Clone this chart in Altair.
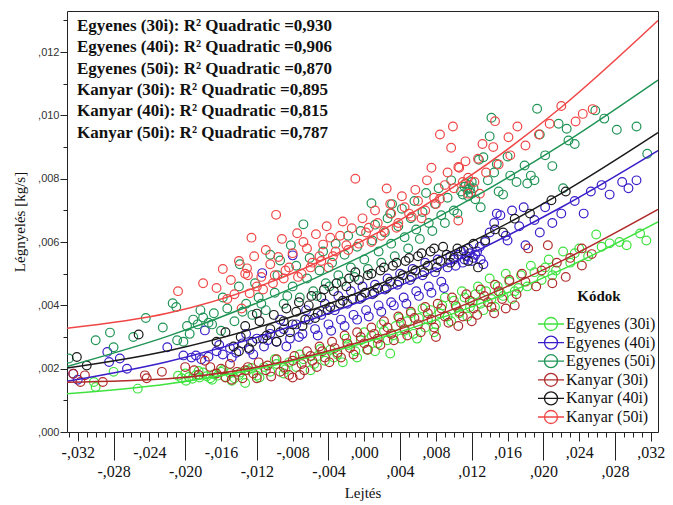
import altair as alt
import pandas as pd

SERIES = ["Egyenes (30i)", "Egyenes (40i)", "Egyenes (50i)",
          "Kanyar (30i)", "Kanyar (40i)", "Kanyar (50i)"]
COLORS = ["#3fe23f", "#3a1fc9", "#1f9455", "#b02a2a", "#1a1a1a", "#f04646"]
R2 = ["0,930", "0,906", "0,870", "0,895", "0,815", "0,787"]

# scatter points, (Lejtés, Légnyelés) in thousandths
e30 = [(-30.2,1.58),(-30.0,1.42),(-28.0,1.90),(-25.3,1.37),(-20.8,1.78),(-20.4,1.70),(-20.0,1.85),
       (-19.6,1.74),(-19.2,1.68),(-18.8,1.80),(-18.4,1.72),(-18.0,1.88),(-17.6,1.76),(-17.2,1.70),
       (-16.8,1.82),(-16.4,1.78),(-16.0,1.90),(-15.5,1.74),(-15.0,1.86),(-14.5,1.70),(-14.0,1.80),
       (-13.3,1.55),(-13.0,1.95),(-12.0,1.78),(-11.2,2.05),(-10.5,1.90),(-9.8,2.15),(-9.0,1.85),
       (-8.4,2.20),(-7.6,2.05),(-6.8,2.30),(-6.0,1.95),(-5.2,2.40),(-4.4,2.25),(-3.8,2.60),(-3.0,2.45),
       (-2.4,2.20),(-1.8,2.75),(-1.0,2.55),(-0.4,2.90),(0.3,2.60),(0.8,3.05),(1.5,2.80),(2.2,3.20),
       (2.9,2.48),(3.5,3.35),(4.1,2.95),(4.8,3.50),(5.5,3.10),(6.1,3.60),(6.8,3.30),(7.4,3.85),
       (8.0,3.40),(8.7,4.00),(9.3,3.65),(10.0,4.15),(10.6,3.75),(11.2,4.25),(11.8,3.95),(12.4,4.35),
       (13.0,4.05),(13.6,4.45),(14.2,4.20),(14.9,4.60),(15.5,4.30),(16.2,4.75),(16.8,4.45),(17.5,4.95),
       (18.2,4.60),(19.0,5.05),(19.8,4.80),(20.6,5.45),(21.4,5.10),(22.2,5.70),(23.0,5.35),(24.0,5.80),
       (25.0,5.55),(25.9,6.24),(27.4,5.96),(28.5,6.00),(29.3,5.90),(30.8,6.27),(31.5,6.05),
       (-19.9,1.62),(-18.5,1.93),(-17.0,1.65),(-15.8,1.95),(-14.8,1.62),(-13.8,1.88),(-12.6,2.02),
       (-11.7,1.72),(-10.0,2.30),(-8.8,1.98),(-7.2,2.45),(-5.6,2.15),(-4.9,2.62),(-3.4,2.35),(-2.0,2.95),
       (-0.8,2.35),(0.0,3.15),(1.2,2.55),(1.9,3.40),(2.6,2.90),(3.2,3.05),(3.9,3.60),(4.5,3.20),
       (5.2,3.75),(5.9,2.95),(6.5,3.90),(7.1,3.55),(7.8,3.15),(8.4,3.75),(9.0,4.25),(9.7,3.50),
       (10.3,3.95),(10.9,4.45),(11.5,3.65),(12.1,4.10),(12.7,4.60),(13.3,3.85),(14.0,4.85),(14.6,3.95),
       (15.2,4.40),(15.8,5.00),(16.5,4.20),(17.2,4.55),(18.6,5.25),(20.2,5.20),(21.0,4.95),(23.5,5.65),
       (26.5,5.85)]
e40 = [(-32.5,1.84),(-32.0,1.65),(-28.7,2.53),(-28.5,2.21),(-27.3,2.32),(-26.5,2.00),(-22.0,2.68),
       (-20.2,2.42),(-19.3,2.35),(-18.8,2.42),(-18.2,2.30),(-17.8,3.21),(-17.4,2.38),(-16.5,2.55),
       (-15.8,2.45),(-15.0,2.65),(-14.3,2.50),(-13.6,2.80),(-12.8,2.60),(-12.0,2.95),(-11.4,5.02),
       (-11.2,2.70),(-10.5,3.10),(-9.8,2.85),(-9.0,3.25),(-8.3,2.95),(-8.0,5.58),(-7.6,3.40),(-6.9,3.10),
       (-6.2,3.55),(-5.5,3.25),(-4.8,3.70),(-4.0,3.40),(-3.3,3.85),(-2.6,3.55),(-1.9,4.05),(-1.2,3.70),
       (-0.5,4.20),(0.2,3.85),(0.9,4.35),(1.6,4.00),(2.3,4.50),(3.0,4.10),(3.7,4.65),(4.4,4.25),
       (5.1,4.80),(5.8,4.45),(6.5,4.95),(7.2,4.60),(7.9,5.05),(8.6,4.75),(9.3,5.20),(10.0,5.45),
       (10.5,5.60),(11.0,5.35),(11.4,5.55),(11.8,5.65),(12.2,5.50),(12.6,5.70),(13.0,5.45),(13.5,6.00),
       (14.0,6.30),(14.5,6.60),(15.2,6.85),(15.8,6.20),(16.5,7.00),(17.3,6.50),(18.0,5.90),(19.0,6.70),
       (20.2,7.10),(22.0,6.90),(23.5,7.30),(24.5,6.90),(25.3,7.60),(26.5,7.80),(27.4,7.50),(28.8,7.90),
       (29.5,7.70),(30.4,7.95),
       (-16.2,2.75),(-14.8,2.35),(-13.2,3.10),(-12.4,2.45),(-10.8,2.90),(-9.4,3.55),(-8.7,2.70),
       (-7.3,3.00),(-6.5,3.85),(-5.2,3.05),(-4.4,4.05),(-3.7,3.20),(-2.9,4.30),(-2.2,3.35),(-1.5,4.45),
       (-0.8,3.55),(-0.2,4.60),(0.5,3.65),(1.2,4.65),(1.9,3.80),(2.6,4.85),(3.3,4.00),(4.0,5.00),
       (4.7,4.05),(5.4,5.15),(6.1,4.30),(6.8,5.35),(7.5,4.40),(8.2,5.45),(8.9,4.55),(9.6,5.55),
       (10.2,5.25),(10.8,5.70),(11.2,5.45),(11.6,5.80),(12.0,5.40),(12.4,5.60),(12.9,5.85),(13.3,5.30),
       (14.8,6.90),(16.0,6.05),(17.8,7.10),(19.6,6.30),(21.0,6.60)]
e50 = [(-33.0,2.32),(-30.0,2.90),(-28.4,3.14),(-28.0,2.68),(-25.8,3.00),(-24.4,3.60),(-21.4,4.07),
       (-20.9,2.90),(-20.2,2.85),(-19.8,3.35),(-19.1,3.55),(-18.6,3.40),(-18.0,3.62),(-17.4,3.45),
       (-16.8,3.75),(-16.0,3.20),(-15.3,3.90),(-14.5,3.50),(-13.9,5.30),(-13.2,4.05),(-12.5,3.70),
       (-11.8,4.25),(-11.0,3.85),(-10.5,5.60),(-10.0,4.40),(-9.4,5.42),(-9.0,4.05),(-8.2,5.90),
       (-8.0,4.60),(-7.2,4.25),(-6.8,6.56),(-6.4,4.85),(-5.7,4.45),(-5.0,5.10),(-4.3,4.70),(-3.6,5.35),
       (-2.9,4.95),(-2.2,5.60),(-1.5,5.20),(-0.8,5.85),(0.0,5.45),(0.8,7.23),(0.9,6.05),(1.6,5.70),
       (2.3,6.30),(2.9,6.90),(3.1,7.20),(3.0,5.95),(3.8,6.50),(4.5,6.15),(5.2,6.75),(5.8,6.40),
       (6.5,6.95),(7.2,6.60),(7.9,7.20),(8.6,6.85),(9.3,7.40),(10.0,7.00),(10.8,7.60),(11.2,7.75),
       (11.5,7.65),(11.7,7.80),(11.9,7.55),(12.2,7.70),(12.8,8.60),(13.3,8.68),(14.0,9.34),(14.2,9.93),
       (14.8,8.47),(15.5,7.50),(16.3,8.10),(17.9,8.42),(18.2,7.85),(19.0,7.95),(19.3,10.21),(19.6,9.40),
       (20.2,8.74),(21.7,9.74),(22.2,7.70),(22.6,9.58),(22.8,9.21),(25.8,10.16),(30.4,9.65),(31.6,8.79),
       (-22.5,3.30),(-21.0,3.95),(-19.5,3.10),(-18.3,3.85),(-17.0,3.40),(-15.8,4.25),(-14.0,4.60),
       (-13.6,3.80),(-12.2,4.70),(-11.5,4.05),(-9.7,4.95),(-8.6,4.30),(-7.6,5.25),(-6.1,5.50),(-5.3,4.30),
       (-4.6,5.70),(-3.9,4.60),(-3.2,5.95),(-2.5,4.75),(-1.8,6.20),(-1.1,4.90),(-0.4,6.35),(0.4,5.15),
       (1.2,6.55),(1.9,5.35),(2.6,6.75),(3.4,5.55),(4.2,7.05),(4.9,5.80),(5.6,7.30),(6.2,6.10),
       (6.9,7.55),(7.6,6.35),(8.3,7.70),(9.0,6.60),(9.7,7.95),(10.4,6.90),(11.0,7.50),(11.3,7.85),
       (11.6,7.45),(11.8,7.70),(12.0,7.90),(12.4,7.35),(13.0,7.10),(13.8,7.95),(14.5,8.20),(15.0,7.60),
       (16.0,8.70),(17.0,7.90),(18.6,8.10),(21.0,8.40),(23.5,9.10),(26.8,9.90),(28.2,9.55)]
k30 = [(-32.5,1.84),(-31.7,1.58),(-31.2,1.79),(-29.2,1.58),(-24.5,1.79),(-24.3,1.70),(-20.0,2.05),
       (-19.0,1.95),(-17.8,2.25),(-16.5,1.85),(-16.0,2.00),(-15.5,1.72),(-15.0,2.15),(-14.2,1.90),
       (-13.6,1.70),(-13.0,2.05),(-12.4,1.85),(-11.8,2.20),(-11.0,1.95),(-10.4,1.75),(-9.8,2.30),
       (-9.0,2.05),(-8.4,1.80),(-8.0,1.72),(-7.8,2.40),(-7.2,1.80),(-7.0,2.15),(-6.4,2.55),(-5.8,2.25),
       (-5.0,2.70),(-4.4,2.35),(-3.6,2.85),(-3.0,2.50),(-2.2,3.05),(-1.6,2.65),(-0.8,3.15),(0.0,2.80),
       (0.8,3.30),(1.5,2.95),(2.2,3.50),(3.0,3.10),(3.8,3.65),(4.5,3.25),(5.2,3.80),(6.0,3.40),
       (6.8,3.95),(7.5,3.55),(8.0,3.00),(8.2,4.05),(9.0,3.65),(9.8,4.25),(10.5,3.35),(10.6,3.80),
       (11.4,4.35),(12.0,3.50),(12.2,3.90),(13.0,4.50),(13.8,4.10),(14.5,3.75),(14.6,4.65),(15.4,4.20),
       (16.2,4.80),(16.8,4.00),(17.6,5.00),(18.3,5.80),(19.2,4.60),(20.5,5.90),(21.5,5.35),(22.5,4.90),
       (24.3,5.80),(24.3,5.26),(25.4,5.62),
       (-22.6,1.90),(-18.5,1.80),(-17.2,2.05),(-14.8,1.65),(-13.3,1.95),(-12.0,1.70),(-10.8,2.10),
       (-9.4,1.90),(-8.0,2.25),(-6.7,1.95),(-6.0,2.40),(-5.3,2.05),(-4.7,2.55),(-3.9,2.20),(-3.3,2.65),
       (-2.6,2.35),(-1.9,2.80),(-1.2,2.45),(-0.4,3.00),(0.4,2.60),(1.1,3.10),(1.8,2.75),(2.6,3.30),
       (3.3,2.90),(4.1,3.45),(4.8,3.05),(5.6,3.60),(6.3,3.15),(7.1,3.75),(7.8,3.30),(8.6,3.90),
       (9.4,3.45),(10.2,4.00),(11.0,3.65),(11.8,4.15),(12.6,3.70),(13.4,4.30),(14.2,3.95),(15.0,4.45),
       (15.8,3.90),(17.0,4.35),(18.0,4.75),(19.8,5.10),(21.0,4.70),(23.0,5.50)]
k40 = [(-32.1,2.37),(-25.2,3.08),(-14.6,2.70),(-13.8,3.00),(-12.9,2.65),(-12.0,3.74),(-11.3,2.95),
       (-10.5,3.25),(-9.8,2.85),(-9.0,3.50),(-8.3,3.15),(-7.6,3.80),(-6.9,3.35),(-6.2,4.00),(-5.5,3.60),
       (-4.8,4.25),(-4.1,3.85),(-3.4,4.45),(-2.7,4.05),(-2.0,4.60),(-1.3,4.20),(-1.0,5.05),(-0.6,4.80),
       (0.1,4.40),(0.8,5.00),(1.5,4.55),(2.2,5.20),(2.9,4.75),(3.6,5.35),(4.3,4.95),(5.0,5.50),(5.7,5.10),
       (6.4,5.65),(7.1,5.25),(7.8,5.80),(8.5,5.40),(9.2,5.60),(10.0,5.50),(11.1,5.73),(12.7,5.20),
       (15.5,6.30),(16.8,6.74),(20.9,7.32),
       (-31.0,2.10),(-16.5,2.85),(-15.5,3.15),(-14.0,2.55),(-13.3,3.35),(-12.5,2.85),(-11.7,3.50),
       (-10.9,3.05),(-10.1,3.70),(-9.4,3.15),(-8.7,3.90),(-8.0,3.40),(-7.3,4.10),(-6.6,3.55),(-5.9,4.30),
       (-5.2,3.75),(-4.5,4.50),(-3.8,3.95),(-3.1,4.70),(-2.4,4.15),(-1.7,4.85),(-0.3,4.25),(0.4,4.95),
       (1.1,4.40),(1.8,5.10),(2.5,4.55),(3.2,5.25),(3.9,4.75),(4.6,5.40),(5.3,4.90),(6.0,5.55),
       (6.7,5.05),(7.4,5.70),(8.1,5.20),(8.8,5.85),(9.6,5.35),(10.4,5.80),(11.6,5.40),(12.2,5.95),
       (13.5,6.05),(14.6,6.40),(18.5,6.90),(22.5,7.60)]
k50 = [(-15.3,4.20),(-14.5,4.35),(-13.7,3.90),(-13.3,5.00),(-13.1,5.17),(-12.8,4.38),(-12.6,6.14),
       (-12.0,4.60),(-11.3,4.50),(-10.5,5.30),(-10.2,4.70),(-9.85,6.86),(-9.6,5.53),(-9.0,4.85),
       (-8.4,5.20),(-7.5,6.28),(-7.0,5.00),(-6.4,5.80),(-5.8,5.35),(-5.0,5.55),(-4.6,5.92),(-4.0,5.20),
       (-3.8,6.14),(-3.2,5.70),(-2.7,6.20),(-2.0,5.90),(-1.4,6.44),(-1.0,8.00),(-0.6,5.95),(0.2,6.30),
       (0.8,6.00),(1.5,6.60),(2.2,6.35),(2.5,7.69),(3.0,6.90),(3.8,6.60),(4.5,7.10),(5.3,6.80),
       (6.0,7.30),(6.8,7.00),(7.5,8.35),(8.0,7.20),(8.45,7.37),(8.45,9.40),(9.0,7.80),(9.7,8.98),
       (9.9,9.65),(10.5,8.37),(10.5,6.68),(10.6,8.35),(11.0,7.90),(11.6,8.03),(11.6,7.53),(12.7,8.63),
       (12.9,7.53),(13.6,8.20),(14.4,9.00),(14.6,9.82),(16.1,9.31),(16.3,8.74),(17.1,9.65),(20.7,9.74),
       (23.6,9.81),(24.4,10.05),
       (-20.8,4.45),(-18.0,4.70),(-16.5,4.55),(-15.8,5.15),(-14.9,4.80),(-14.0,5.40),(-13.0,4.95),
       (-12.3,5.55),(-11.5,4.90),(-11.0,5.75),(-10.0,4.95),(-9.2,6.10),(-8.8,5.10),(-8.0,5.65),
       (-7.4,4.90),(-6.8,6.00),(-6.0,5.20),(-5.4,6.25),(-4.8,5.40),(-4.2,6.50),(-3.5,5.55),(-2.4,6.65),
       (-1.8,5.75),(-0.2,6.75),(0.5,6.45),(1.2,7.00),(1.9,6.20),(2.9,7.20),(3.6,6.45),(4.2,7.45),
       (5.0,6.90),(5.7,7.65),(6.4,6.75),(7.0,7.95),(7.8,7.40),(9.3,8.20),(10.0,7.70),(11.3,8.55),
       (12.3,7.90),(13.2,9.10),(15.0,8.45),(18.0,9.05),(19.5,9.40),(22.0,10.30),(25.5,10.20)]

# quadratic fit lines (thousandths)
CURVE_X = [-33.2, -22, -11, 0, 11, 22, 32.8]
curve_e30 = [1.21, 1.52, 2.05, 2.82, 3.85, 5.12, 6.64]
curve_e40 = [1.60, 2.22, 3.08, 4.17, 5.51, 7.10, 8.89]
curve_e50 = [2.07, 3.02, 4.19, 5.59, 7.22, 9.07, 11.12]
curve_k30 = [1.57, 1.68, 2.10, 2.88, 4.00, 5.40, 7.03]
curve_k40 = [2.02, 2.56, 3.38, 4.48, 5.87, 7.54, 9.46]
curve_k50 = [3.28, 3.75, 4.68, 6.07, 7.93, 10.26, 13.00]

pts_rows = []
for name, pts in zip(SERIES, [e30, e40, e50, k30, k40, k50]):
    for x, y in pts:
        pts_rows.append({"series": name, "x": x, "y": y})
points_df = pd.DataFrame(pts_rows)

curve_rows = []
for name, ys in zip(SERIES, [curve_e30, curve_e40, curve_e50, curve_k30, curve_k40, curve_k50]):
    for i, (x, y) in enumerate(zip(CURVE_X, ys)):
        curve_rows.append({"series": name, "x": x, "y": y, "order": i})
curve_df = pd.DataFrame(curve_rows)

SERIF = "Liberation Serif, Times New Roman, serif"
SANS = "Liberation Sans, Arial, sans-serif"

x_enc = alt.X(
    "x:Q",
    scale=alt.Scale(domain=[-33.2, 32.8], nice=False, zero=False),
    axis=alt.Axis(
        title="Lejtés",
        values=list(range(-33, 33)),
        labelExpr="datum.value % 4 == 0 ? ((datum.value < 0 ? '-' : '') + ',' + format(abs(datum.value), '03d')) : ''",
        tickSize={"condition": [{"test": "abs(datum.value % 8) == 4", "value": 28},
                                {"test": "datum.value % 8 == 0", "value": 9}],
                  "value": 5},
        labelPadding=3, labelFont=SERIF, labelFontSize=16, labelColor="#111",
        labelOverlap=False, labelFlush=False, labelBound=False,
        tickColor="#222", tickWidth=1, domain=False, grid=False,
        titleFont=SERIF, titleFontSize=15, titleFontWeight="normal", titleColor="#111",
        titlePadding=6,
    ),
)
y_enc = alt.Y(
    "y:Q",
    scale=alt.Scale(domain=[0, 13.3], nice=False, zero=True),
    axis=alt.Axis(
        title="Légnyelés [kg/s]",
        values=list(range(0, 14)),
        labelExpr="datum.value % 2 == 0 ? ',' + format(datum.value, '03d') : ''",
        tickSize={"condition": {"test": "datum.value % 2 == 0", "value": 7}, "value": 4},
        labelPadding=1, labelFont=SANS, labelFontSize=11, labelColor="#333",
        labelOverlap=False, labelFlush=False,
        tickColor="#222", tickWidth=1, domain=False, grid=False,
        titleFont=SERIF, titleFontSize=15, titleFontWeight="normal", titleColor="#111",
        titlePadding=10,
    ),
)

LEGEND_SYMBOL = "M -1 0 A 1 1 0 1 1 1 0 A 1 1 0 1 1 -1 0 M -2 0 L 2 0"

color_scale = alt.Scale(domain=SERIES, range=COLORS)

points = alt.Chart(points_df).mark_point(
    shape="circle", filled=False, size=76, strokeWidth=1.2, opacity=1, clip=True
).encode(
    x=x_enc, y=y_enc,
    color=alt.Color(
        "series:N", scale=color_scale,
        legend=alt.Legend(
            title="Kódok", orient="none", legendX=476, legendY=278,
            symbolType=LEGEND_SYMBOL, symbolSize=169, symbolStrokeWidth=1.3,
            labelFont=SERIF, labelFontSize=16, labelColor="#111", labelOffset=7,
            titleFont=SERIF, titleFontSize=15, titleFontWeight="bold", titleColor="#111",
            titleAnchor="middle", titlePadding=12, rowPadding=-1.4, padding=0,
        ),
    ),
)

curves = alt.Chart(curve_df).mark_line(
    interpolate="monotone", strokeWidth=1.5, clip=True
).encode(
    x=x_enc, y=y_enc, order="order:Q",
    color=alt.Color("series:N", scale=color_scale, legend=None),
)

ann_lines = [f"{s}: R² Quadratic ={r}" for s, r in zip(SERIES, R2)]
annotation = alt.Chart(pd.DataFrame({"k": [0]})).mark_text(
    text=ann_lines, align="left", baseline="top", lineHeight=21.3,
    font=SERIF, fontSize=17, fontWeight="bold", color="#111",
).encode(x=alt.value(10), y=alt.value(7))

chart = alt.layer(points, curves, annotation).properties(
    width=591, height=421,
    padding={"left": 59, "top": 3, "right": 7, "bottom": 73},
    autosize=alt.AutoSizeParams(type="none"),
    background="white",
).configure_view(stroke="#222", strokeWidth=1)

chart.save("out.html", embed_options={"renderer": "svg", "actions": False})
